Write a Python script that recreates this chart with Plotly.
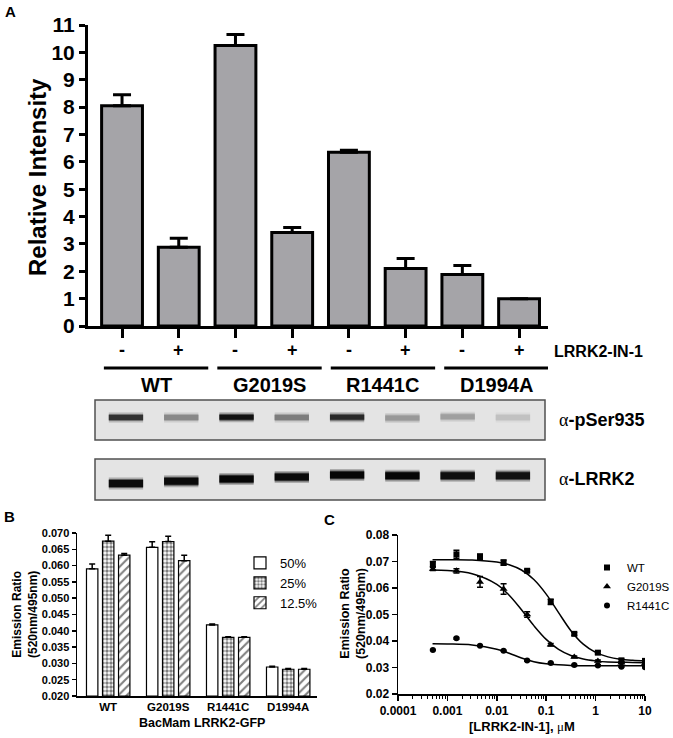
import plotly.graph_objects as go

W, H = 673, 738
def px(x): return x / W
def py(y): return 1 - y / H

FONT = "Arial, Liberation Sans, Helvetica, sans-serif"
SERIF = "Liberation Serif, Times New Roman, serif"

# ---------------- Panel A data ----------------
a_treat = ["-", "+", "-", "+", "-", "+", "-", "+"]
a_groups = ["WT", "G2019S", "R1441C", "D1994A"]
a_values = [8.05, 2.88, 10.25, 3.42, 6.35, 2.10, 1.88, 1.00]
a_errors = [0.40, 0.33, 0.40, 0.18, 0.07, 0.37, 0.33, 0.0]
a_yticks = list(range(0, 12))

# ---------------- Blot data (band darkness 0-1, vertical position 0-1) ----
blot_lanes = list(range(8))
pser_intensity = [0.78, 0.40, 0.92, 0.45, 0.82, 0.33, 0.30, 0.15]
pser_position = [0.56, 0.56, 0.57, 0.56, 0.57, 0.55, 0.58, 0.56]
lrrk2_intensity = [0.95, 0.95, 0.97, 0.96, 0.97, 0.97, 0.93, 0.92]
lrrk2_position = [0.40, 0.46, 0.51, 0.56, 0.61, 0.59, 0.59, 0.59]

# ---------------- Panel B data ----------------
b_categories = ["WT", "G2019S", "R1441C", "D1994A"]
b_series = ["50%", "25%", "12.5%"]
b_50 = [0.0590, 0.0656, 0.0418, 0.0289]
b_50_err = [0.0015, 0.0017, 0.0003, 0.0002]
b_25 = [0.0675, 0.0674, 0.0380, 0.0282]
b_25_err = [0.0018, 0.0016, 0.0002, 0.0002]
b_125 = [0.0632, 0.0615, 0.0380, 0.0282]
b_125_err = [0.0005, 0.0017, 0.0002, 0.0002]
b_yticks = [0.020, 0.025, 0.030, 0.035, 0.040, 0.045, 0.050, 0.055, 0.060, 0.065, 0.070]

# ---------------- Panel C data ----------------
c_conc = [0.000508, 0.001524, 0.004572, 0.01372, 0.04115, 0.1235, 0.3704, 1.111, 3.333, 10.0]
c_wt = [0.0690, 0.0727, 0.0718, 0.0696, 0.0665, 0.0548, 0.0427, 0.0356, 0.0327, 0.0325]
c_wt_err = [0.0010, 0.0015, 0.0010, 0.0010, 0.0005, 0.0010, 0.0005, 0.0005, 0.0005, 0.0005]
c_g = [0.0672, 0.0665, 0.0623, 0.0596, 0.0500, 0.0386, 0.0340, 0.0325, 0.0318, 0.0316]
c_g_err = [0.0006, 0.0008, 0.0020, 0.0020, 0.0010, 0.0005, 0.0003, 0.0003, 0.0003, 0.0003]
c_r = [0.0366, 0.0410, 0.0382, 0.0363, 0.0326, 0.0317, 0.0309, 0.0308, 0.0303, 0.0301]
c_r_err = [0.0002, 0.0003, 0.0002, 0.0002, 0.0002, 0.0002, 0.0002, 0.0002, 0.0002, 0.0002]
c_fit_conc = [0.0005, 0.001, 0.00316, 0.01, 0.0178, 0.0316, 0.0562, 0.1, 0.178, 0.316,
              0.562, 1.0, 1.78, 3.16, 5.62, 10.0]
c_fit_wt = [0.0707, 0.0707, 0.0706, 0.0698, 0.0688, 0.0668, 0.0632, 0.0577, 0.0507, 0.0439,
            0.0388, 0.0357, 0.0340, 0.0331, 0.0327, 0.0325]
c_fit_g = [0.0668, 0.0666, 0.0654, 0.0614, 0.0573, 0.0518, 0.0458, 0.0406, 0.0368, 0.0345,
           0.0332, 0.0325, 0.0321, 0.0320, 0.0319, 0.0318]
c_fit_r = [0.0390, 0.0389, 0.0385, 0.0369, 0.0354, 0.0336, 0.0322, 0.0314, 0.0310, 0.0308,
           0.0307, 0.0307, 0.0307, 0.0307, 0.0307, 0.0307]
c_xtickvals = [0.0001, 0.001, 0.01, 0.1, 1, 10]
c_xticktext = ["0.0001", "0.001", "0.01", "0.1", "1", "10"]
c_yticks = [0.02, 0.03, 0.04, 0.05, 0.06, 0.07, 0.08]

fig = go.Figure()

# ---------- Panel A bars ----------
fig.add_trace(go.Bar(
    x=list(range(len(a_values))), y=a_values, width=0.72,
    marker=dict(color="#a5a4a8", line=dict(color="black", width=3)),
    error_y=dict(type="data", symmetric=False, array=a_errors,
                 arrayminus=[0] * len(a_errors), color="black", thickness=3, width=9),
    xaxis="x", yaxis="y", showlegend=False, hoverinfo="skip"))

# ---------- Blots ----------
def gray(d):
    v = int(228 * (1 - d))
    return f"rgb({v},{v},{v})"

for lanes, inten, pos, xa, ya, thick in [
        (blot_lanes, pser_intensity, pser_position, "x2", "y2", 5),
        (blot_lanes, lrrk2_intensity, lrrk2_position, "x3", "y3", 7)]:
    for ln, d, p in zip(lanes, inten, pos):
        for w, op in [(thick + 5, 0.25), (thick + 2, 0.5), (thick, 1.0)]:
            fig.add_trace(go.Scatter(
                x=[ln - 0.31, ln + 0.31], y=[p, p], mode="lines",
                line=dict(color=gray(d), width=w), opacity=op,
                xaxis=xa, yaxis=ya, showlegend=False, hoverinfo="skip"))

# ---------- Panel B bars ----------
b_vals = [b_50, b_25, b_125]
b_errs = [b_50_err, b_25_err, b_125_err]
patterns = [dict(shape=""),
            dict(shape=".", fgcolor="black", bgcolor="white", size=4, solidity=0.6, fillmode="overlay"),
            dict(shape="/", fgcolor="black", bgcolor="white", size=6, solidity=0.35, fillmode="overlay")]
for i, (name, vals, errs, pat) in enumerate(zip(b_series, b_vals, b_errs, patterns)):
    fig.add_trace(go.Bar(
        x=list(range(len(b_categories))), y=[v - 0.02 for v in vals], base=0.02,
        name=name, width=0.19, offset=(i - 1) * 0.267 - 0.095,
        marker=dict(color="white", line=dict(color="black", width=1.2), pattern=pat),
        error_y=dict(type="data", symmetric=False, array=errs, arrayminus=[0] * len(errs),
                     color="black", thickness=1.5, width=3),
        xaxis="x4", yaxis="y4", legend="legend", hoverinfo="skip"))

# ---------- Panel C ----------
for name, ys, errs, sym, size in [("WT", c_wt, c_wt_err, "square", 6),
                                  ("G2019S", c_g, c_g_err, "triangle-up", 7),
                                  ("R1441C", c_r, c_r_err, "circle", 6)]:
    fig.add_trace(go.Scatter(
        x=c_conc, y=ys, mode="markers", name=name,
        marker=dict(symbol=sym, color="black", size=size),
        error_y=dict(type="data", array=errs, color="black", thickness=1.5, width=3),
        xaxis="x5", yaxis="y5", legend="legend2", hoverinfo="skip"))
for fit in [c_fit_wt, c_fit_g, c_fit_r]:
    fig.add_trace(go.Scatter(
        x=c_fit_conc, y=fit, mode="lines", line=dict(color="black", width=1.5, shape="spline"),
        xaxis="x5", yaxis="y5", showlegend=False, hoverinfo="skip"))

bold = dict(family=FONT, color="black", weight="bold")
def f(size, **kw):
    d = dict(bold); d["size"] = size; d.update(kw); return d

axis_common = dict(showgrid=False, zeroline=False, showline=True, linecolor="black",
                   automargin=False)

minor_vals = [m * 10 ** e for e in range(-4, 1) for m in range(2, 10)]

fig.update_layout(
    template="none",
    width=W, height=H, autosize=False,
    margin=dict(l=0, r=0, t=0, b=0, pad=0, autoexpand=False),
    paper_bgcolor="white", plot_bgcolor="rgba(0,0,0,0)",
    barmode="overlay",
    font=dict(family=FONT, color="black"),
    # Panel A
    xaxis=dict(axis_common, domain=[px(88), px(548)], range=[-0.6, 7.51], anchor="y",
               linewidth=3, tickvals=list(range(8)), ticks="outside", ticklen=9,
               tickwidth=3, tickcolor="black", showticklabels=False, fixedrange=True),
    yaxis=dict(axis_common, domain=[py(326), py(25)], range=[0, 11], anchor="x",
               linewidth=3, tickvals=a_yticks, ticks="outside", ticklen=6, tickwidth=3,
               tickcolor="black", tickfont=f(21)),
    # Blots
    xaxis2=dict(domain=[px(95), px(545)], range=[-0.56, 7.58], anchor="y2", visible=False,
                automargin=False),
    yaxis2=dict(domain=[py(440), py(400)], range=[0, 1], anchor="x2", visible=False,
                automargin=False),
    xaxis3=dict(domain=[px(95), px(545)], range=[-0.56, 7.58], anchor="y3", visible=False,
                automargin=False),
    yaxis3=dict(domain=[py(500), py(459)], range=[0, 1], anchor="x3", visible=False,
                automargin=False),
    # Panel B
    xaxis4=dict(axis_common, domain=[px(77), px(317)], range=[-0.52, 3.48], anchor="y4",
                linewidth=1.5, tickvals=list(range(4)), ticktext=b_categories, ticks="",
                tickfont=f(11.5)),
    yaxis4=dict(axis_common, domain=[py(696), py(533)], range=[0.02, 0.07], anchor="x4",
                linewidth=1.5, tickvals=b_yticks, tickformat=".3f", ticks="outside",
                ticklen=4, tickwidth=1.5, tickcolor="black", tickfont=f(11)),
    # Panel C
    xaxis5=dict(axis_common, type="log", domain=[px(398), px(645)], range=[-4, 1],
                anchor="y5", linewidth=1.5, tickvals=c_xtickvals, ticktext=c_xticktext,
                ticks="outside", ticklen=5, tickwidth=1.5, tickcolor="black",
                tickfont=f(12),
                minor=dict(tickvals=minor_vals, ticks="outside", ticklen=3, tickwidth=1,
                           tickcolor="black", showgrid=False)),
    yaxis5=dict(axis_common, domain=[py(694), py(535)], range=[0.02, 0.08], anchor="x5",
                linewidth=1.5, tickvals=c_yticks, tickformat=".2f", ticks="outside",
                ticklen=5, tickwidth=1.5, tickcolor="black", tickfont=f(12)),
    legend=dict(x=px(240), y=py(548), xanchor="left", yanchor="top",
                font=dict(family=FONT, size=13, color="black"), bgcolor="rgba(0,0,0,0)",
                tracegroupgap=0, itemwidth=30),
    legend2=dict(x=px(587), y=py(553), xanchor="left", yanchor="top",
                 font=dict(family=FONT, size=11.5, color="black"), bgcolor="rgba(0,0,0,0)",
                 tracegroupgap=0, itemwidth=30),
)

shapes = []
annotations = []

# blot frames
for xa, ya in [("x2", "y2"), ("x3", "y3")]:
    shapes.append(dict(type="rect", xref=f"{xa} domain", yref=f"{ya} domain",
                       x0=0, x1=1, y0=0, y1=1, fillcolor="#e4e4e4",
                       line=dict(color="#505050", width=1.5), layer="below"))

# Group underlines and labels (panel A)
for g, name in enumerate(a_groups):
    shapes.append(dict(type="line", xref="x", yref="paper",
                       x0=2 * g - 0.32, x1=2 * g + 1.52, y0=py(368), y1=py(368),
                       line=dict(color="black", width=3)))
    annotations.append(dict(text=name, xref="x", yref="paper", x=2 * g + 0.6, y=py(385),
                            showarrow=False, font=f(20), xanchor="center", yanchor="middle"))
for i, t in enumerate(a_treat):
    annotations.append(dict(text=t, xref="x", yref="paper", x=i, y=py(350),
                            showarrow=False, font=f(18), xanchor="center", yanchor="middle"))

annotations += [
    dict(text="LRRK2-IN-1", xref="paper", yref="paper", x=px(552), y=py(351),
         showarrow=False, font=f(16), xanchor="left", yanchor="middle"),
    dict(text="Relative Intensity", xref="paper", yref="paper", x=px(37), y=py(177),
         showarrow=False, font=f(24), textangle=-90, xanchor="center", yanchor="middle"),
    dict(text=f"<span style='font-family:{SERIF};font-weight:normal'>α</span>-pSer935",
         xref="paper", yref="paper", x=px(557), y=py(420), showarrow=False, font=f(18),
         xanchor="left", yanchor="middle"),
    dict(text=f"<span style='font-family:{SERIF};font-weight:normal'>α</span>-LRRK2",
         xref="paper", yref="paper", x=px(557), y=py(479), showarrow=False, font=f(18),
         xanchor="left", yanchor="middle"),
    dict(text="A", xref="paper", yref="paper", x=px(3), y=py(11), showarrow=False,
         font=f(15), xanchor="left", yanchor="middle"),
    dict(text="B", xref="paper", yref="paper", x=px(2), y=py(516), showarrow=False,
         font=f(15), xanchor="left", yanchor="middle"),
    dict(text="C", xref="paper", yref="paper", x=px(322), y=py(519), showarrow=False,
         font=f(15), xanchor="left", yanchor="middle"),
    # Panel B titles
    dict(text="Emission Ratio<br>(520nm/495nm)", xref="paper", yref="paper",
         x=px(25), y=py(615), showarrow=False, font=f(12), textangle=-90,
         xanchor="center", yanchor="middle"),
    dict(text="BacMam LRRK2-GFP", xref="paper", yref="paper", x=px(202), y=py(723),
         showarrow=False, font=f(12.5), xanchor="center", yanchor="middle"),
    # Panel C titles
    dict(text="Emission Ratio<br>(520nm/495nm)", xref="paper", yref="paper",
         x=px(353), y=py(614), showarrow=False, font=f(12.5), textangle=-90,
         xanchor="center", yanchor="middle"),
    dict(text=f"[LRRK2-IN-1], <span style='font-family:{SERIF};font-weight:normal'>μ</span>M",
         xref="paper", yref="paper", x=px(522), y=py(726), showarrow=False, font=f(13),
         xanchor="center", yanchor="middle"),
]

fig.update_layout(shapes=shapes, annotations=annotations)
fig.write_html("out.html",
               config={"displayModeBar": False, "staticPlot": True},
               post_script="document.body.style.margin='0px';"
                           "document.body.style.padding='0px';"
                           "document.body.style.overflow='hidden';")
